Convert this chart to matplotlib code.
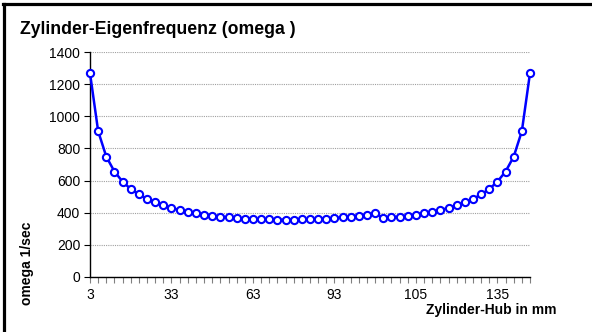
import matplotlib
matplotlib.use("Agg")
import matplotlib.pyplot as plt
from matplotlib.lines import Line2D

plt.rcParams['font.family'] = ['Liberation Sans', 'DejaVu Sans']

# stroke positions (mm) as listed in the sheet, one category per row
hub_mm = [3, 6, 9, 12, 15, 18, 21, 24, 27, 30, 33, 36, 39, 42, 45, 48, 51, 54,
          57, 60, 63, 66, 69, 72, 75, 78, 81, 84, 87, 90, 93, 96, 99, 102, 105, 108,
          93, 96, 99, 102, 105, 108, 111, 114, 117, 120, 123, 126, 129, 132, 135,
          138, 141, 144, 147]

# natural frequency omega in 1/sec
omega = [1270, 908, 749, 656, 593, 547, 513, 485, 463, 445, 429, 416, 405, 396,
         388, 381, 375, 371, 366, 363, 360, 358, 357, 356, 356, 356, 357, 358, 360,
         363, 366, 371, 375, 381, 388, 396,
         366, 371, 375, 381, 388, 396, 405, 416, 429, 445, 463, 485, 513, 547, 593,
         656, 749, 908, 1270]

y_ticks = [0, 200, 400, 600, 800, 1000, 1200, 1400]
label_every = 10

fig = plt.figure(figsize=(5.92, 3.32), dpi=100)
ax = fig.add_axes([90 / 592, 1 - 276.7 / 332, 440 / 592, 224.4 / 332])

idx = list(range(len(omega)))
ax.plot(idx, omega, color='#0000ff', lw=1.8, marker='o', ms=5.2,
        mfc='white', mec='#0000ff', mew=1.5, clip_on=False, zorder=3)

ax.set_xlim(0, len(omega) - 1)
ax.set_ylim(0, 1400)
ax.set_yticks(y_ticks)
ax.set_yticklabels([str(v) for v in y_ticks], fontsize=10)
ax.yaxis.grid(True, color='#a0a0a0', lw=0.8, ls=(0, (1, 1)))
ax.set_axisbelow(True)

ax.set_xticks(idx, minor=True)
ax.set_xticks(idx[::label_every])
ax.set_xticklabels([str(hub_mm[i]) for i in idx[::label_every]], fontsize=10)
ax.tick_params(axis='x', which='both', direction='out', length=4, width=0.8,
               color='#808080', pad=4)
ax.tick_params(axis='y', direction='out', length=4, width=0.8, pad=3)

for s in ['top', 'right']:
    ax.spines[s].set_visible(False)
for s in ['left', 'bottom']:
    ax.spines[s].set_linewidth(1.0)

fig.text(20 / 592, 1 - 30 / 332, 'Zylinder-Eigenfrequenz (omega )', fontsize=12.7,
         fontweight='bold', ha='left', va='center')
fig.text(557 / 592, 1 - 310 / 332, 'Zylinder-Hub in mm', fontsize=10,
         fontweight='bold', ha='right', va='center')
fig.text(27 / 592, 1 - 263 / 332, 'omega 1/sec', fontsize=10, fontweight='bold',
         rotation=90, ha='center', va='center')

# chart frame (top and left edges)
fig.add_artist(Line2D([3 / 592, 1], [1 - 3.5 / 332, 1 - 3.5 / 332],
                      transform=fig.transFigure, color='black', lw=2.3))
fig.add_artist(Line2D([4 / 592, 4 / 592], [0, 1 - 3.5 / 332],
                      transform=fig.transFigure, color='black', lw=2.3))

fig.savefig('out.png', dpi=100)
